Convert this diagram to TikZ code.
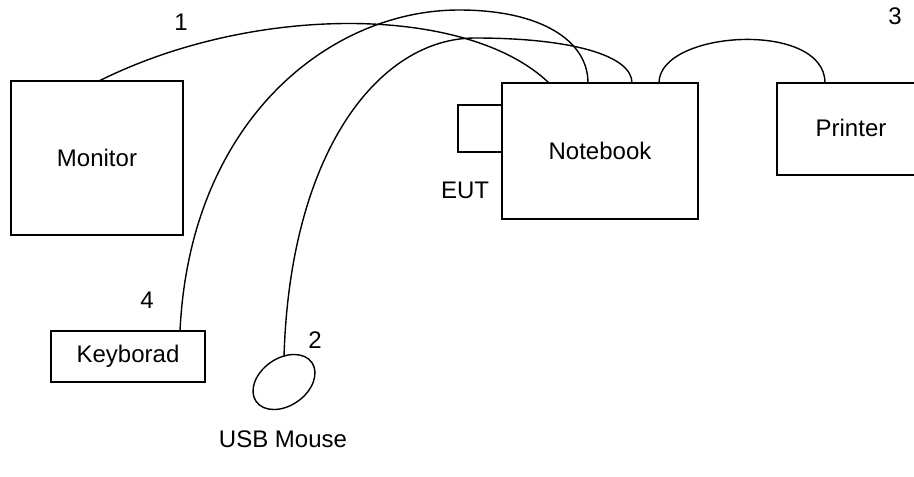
\documentclass[tikz,border=0pt]{standalone}
\usepackage{fontspec}
\setmainfont{Liberation Sans}
\usetikzlibrary{calc}
\begin{document}
\begin{tikzpicture}[x=1pt,y=-1pt,
  box/.style={draw,line width=1.4pt,rectangle,inner sep=0pt,font=\fontsize{24}{28}\selectfont},
  lbl/.style={inner sep=0pt,font=\fontsize{24}{28}\selectfont},
  cable/.style={line width=1.4pt}]
\useasboundingbox (0,0) rectangle (914,477);
\clip (0,0) rectangle (914,477);
% boxes
\node[box,minimum width=172pt,minimum height=154pt] (monitor) at (97,158) {Monitor};
\node[box,minimum width=196pt,minimum height=136pt] (notebook) at (600,151) {Notebook};
\node[box,minimum width=44pt,minimum height=47pt] (eut) at (480,128.5) {};
\node[box,minimum width=154pt,minimum height=92pt,text width=0pt] (printer) at (854,129) {};
\node[lbl] (printertxt) at (851,128) {Printer};
\node[box,minimum width=154pt,minimum height=51pt] (keyboard) at (128,356.5) {Keyborad};
\draw[line width=1.4pt,rotate around={35:(284,382)}] (284,382) ellipse [x radius=34pt,y radius=23.7pt];
\coordinate (mouse) at (284,382);
% labels
\node[lbl] (eutl) at (465,190) {EUT};
\node[lbl] (l1) at (181,22) {1};
\node[lbl] (l2) at (315,340) {2};
\node[lbl] (l3) at (895,16) {3};
\node[lbl] (l4) at (147,300) {4};
\node[lbl] (usb) at (283,439) {USB Mouse};
% ports
\coordinate (mp) at (99,81);
\coordinate (kp) at (180,331);
\coordinate (msp) at (284,357);
\coordinate (pp) at (825,83);
\coordinate (n1) at (549,83);
\coordinate (n2) at (588,83);
\coordinate (n3) at (632,83);
\coordinate (n4) at (659,83);
\coordinate (pk4) at (459,10);
\coordinate (pk2) at (475,38);
% cables
\draw[cable] (mp) .. controls (255,3) and (468,5) .. (n1);
\draw[cable] (kp) .. controls (190,120) and (330,10) .. (pk4) .. controls (540,10) and (588,40) .. (n2);
\draw[cable] (msp) .. controls (290,150) and (380,38) .. (pk2) .. controls (570,38) and (632,55) .. (n3);
\draw[cable] (n4) .. controls (659,30) and (825,20) .. (pp);
\end{tikzpicture}
\end{document}
